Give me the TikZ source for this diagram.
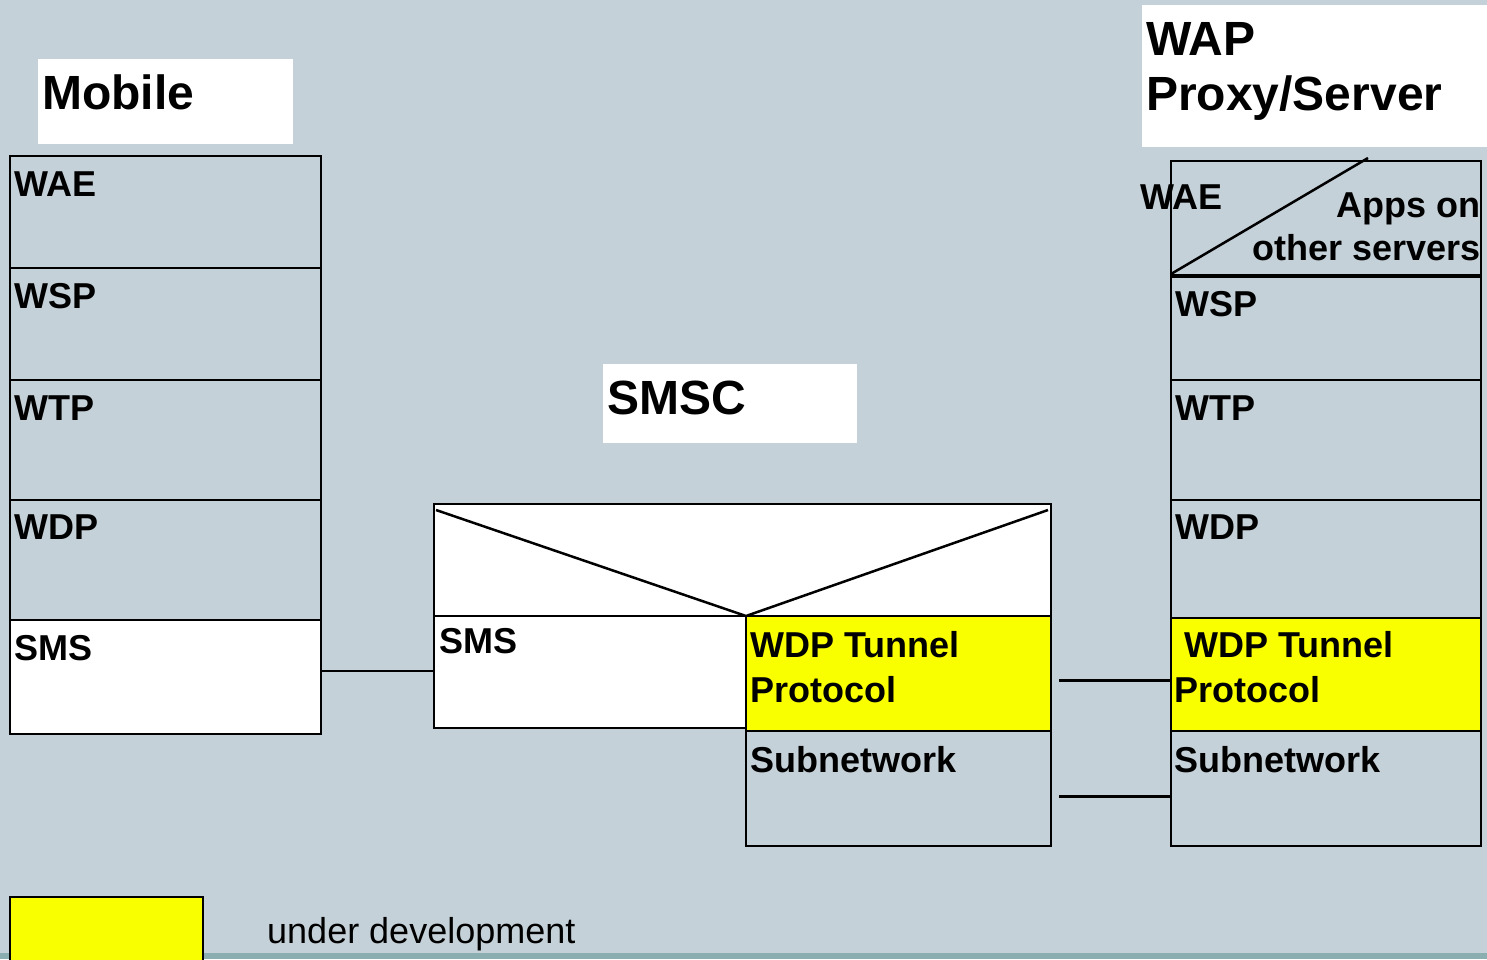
\documentclass[tikz,border=0pt]{standalone}
\usepackage{fontspec}
\setmainfont{Liberation Sans}
\definecolor{bg}{RGB}{197,209,216}
\definecolor{strip}{RGB}{139,175,176}
\definecolor{devyellow}{RGB}{250,255,0}
\begin{document}
\begin{tikzpicture}[x=1pt,y=-1pt,
  box/.style={draw, line width=2.5pt, anchor=north west, inner sep=0pt, outer sep=0pt},
  lbl/.style={anchor=base west, inner sep=0pt, font=\fontsize{36}{43}\selectfont\bfseries},
  title/.style={anchor=base west, inner sep=0pt, font=\fontsize{48}{55}\selectfont\bfseries},
  tag/.style={fill=white, anchor=north west, inner sep=0pt, outer sep=0pt},
  link/.style={line width=2.5pt}]
% canvas
\fill[bg] (0,0) rectangle (1487,959);
\fill[strip] (0,953) rectangle (1487,959);
\useasboundingbox (0,0) rectangle (1487,959);

% ---------------- Mobile stack ----------------
\node[tag, minimum width=255pt, minimum height=85pt] (mobTag) at (38,59) {};
\node[title] (mobTitle) at (42,109) {Mobile};
\node[box, minimum width=311pt, minimum height=112pt] (mWAE) at (10,156) {};
\node[box, minimum width=311pt, minimum height=112pt] (mWSP) at (10,268) {};
\node[box, minimum width=311pt, minimum height=120pt] (mWTP) at (10,380) {};
\node[box, minimum width=311pt, minimum height=120pt] (mWDP) at (10,500) {};
\node[box, fill=white, minimum width=311pt, minimum height=114pt] (mSMS) at (10,620) {};
\node[lbl] (mWAEt) at (14,196) {WAE};
\node[lbl] (mWSPt) at (14,308) {WSP};
\node[lbl] (mWTPt) at (14,420) {WTP};
\node[lbl] (mWDPt) at (14,539) {WDP};
\node[lbl] (mSMSt) at (14,660) {SMS};

% ---------------- SMSC ----------------
\node[tag, minimum width=254pt, minimum height=79pt] (smscTag) at (603,364) {};
\node[title] (smscTitle) at (607,414) {SMSC};
\node[box, fill=white, minimum width=617pt, minimum height=112pt] (sTop) at (434,504) {};
\node[box, fill=white, minimum width=312pt, minimum height=112pt] (sSMS) at (434,616) {};
\node[box, fill=devyellow, minimum width=305pt, minimum height=115pt] (sTun) at (746,616) {};
\node[box, minimum width=305pt, minimum height=115pt] (sSub) at (746,731) {};
\draw[link] ([xshift=2pt,yshift=-6pt]sTop.north west) -- (sTun.north west)
            -- ([xshift=-3pt,yshift=-6pt]sTop.north east);
\node[lbl] (sSMSt) at (439,653) {SMS};
\node[lbl] (sTunA) at (750,657) {WDP Tunnel};
\node[lbl] (sTunB) at (750,702) {Protocol};
\node[lbl] (sSubt) at (750,772) {Subnetwork};

% ---------------- WAP Proxy/Server ----------------
\node[tag, minimum width=345pt, minimum height=142pt] (wapTag) at (1142,5) {};
\node[title] (wapA) at (1146,55) {WAP};
\node[title] (wapB) at (1146,110) {Proxy/Server};
\node[box, minimum width=310pt, minimum height=115pt] (rWAE) at (1171,161) {};
\node[box, minimum width=310pt, minimum height=104pt] (rWSP) at (1171,276) {};
\node[box, minimum width=310pt, minimum height=120pt] (rWTP) at (1171,380) {};
\node[box, minimum width=310pt, minimum height=118pt] (rWDP) at (1171,500) {};
\node[box, fill=devyellow, minimum width=310pt, minimum height=113pt] (rTun) at (1171,618) {};
\node[box, minimum width=310pt, minimum height=115pt] (rSub) at (1171,731) {};
\draw[line width=3.5pt] (rWSP.north west) -- (rWSP.north east);
\draw[link] ([yshift=2pt]rWAE.south west) -- ([xshift=197pt,yshift=3pt]rWAE.north west);
\node[lbl] (rWAEt) at (1140,209) {WAE};
\node[lbl, anchor=base east] (rAppsA) at (1481,217) {Apps on};
\node[lbl, anchor=base east] (rAppsB) at (1481,260) {other servers};
\node[lbl] (rWSPt) at (1175,316) {WSP};
\node[lbl] (rWTPt) at (1175,420) {WTP};
\node[lbl] (rWDPt) at (1175,539) {WDP};
\node[lbl] (rTunA) at (1184,657) {WDP Tunnel};
\node[lbl] (rTunB) at (1174,702) {Protocol};
\node[lbl] (rSubt) at (1174,772) {Subnetwork};

% ---------------- links between peers ----------------
\draw[link] ([yshift=1pt]sSMS.west) -- ([yshift=1pt]sSMS.west -| mSMS.east);
\coordinate (tunL) at ([xshift=8pt,yshift=-7pt]sTun.east);
\draw[link] (tunL) -- (tunL -| rTun.west);
\coordinate (subL) at ([xshift=8pt,yshift=-8pt]sSub.east);
\draw[line width=3.5pt] (subL) -- (subL -| rSub.west);

% ---------------- legend ----------------
\node[box, fill=devyellow, minimum width=193pt, minimum height=70pt] (legend) at (10,897) {};
\node[anchor=base west, inner sep=0pt, font=\fontsize{36}{43}\selectfont] (legendText) at (267,943) {under development};
\end{tikzpicture}
\end{document}
